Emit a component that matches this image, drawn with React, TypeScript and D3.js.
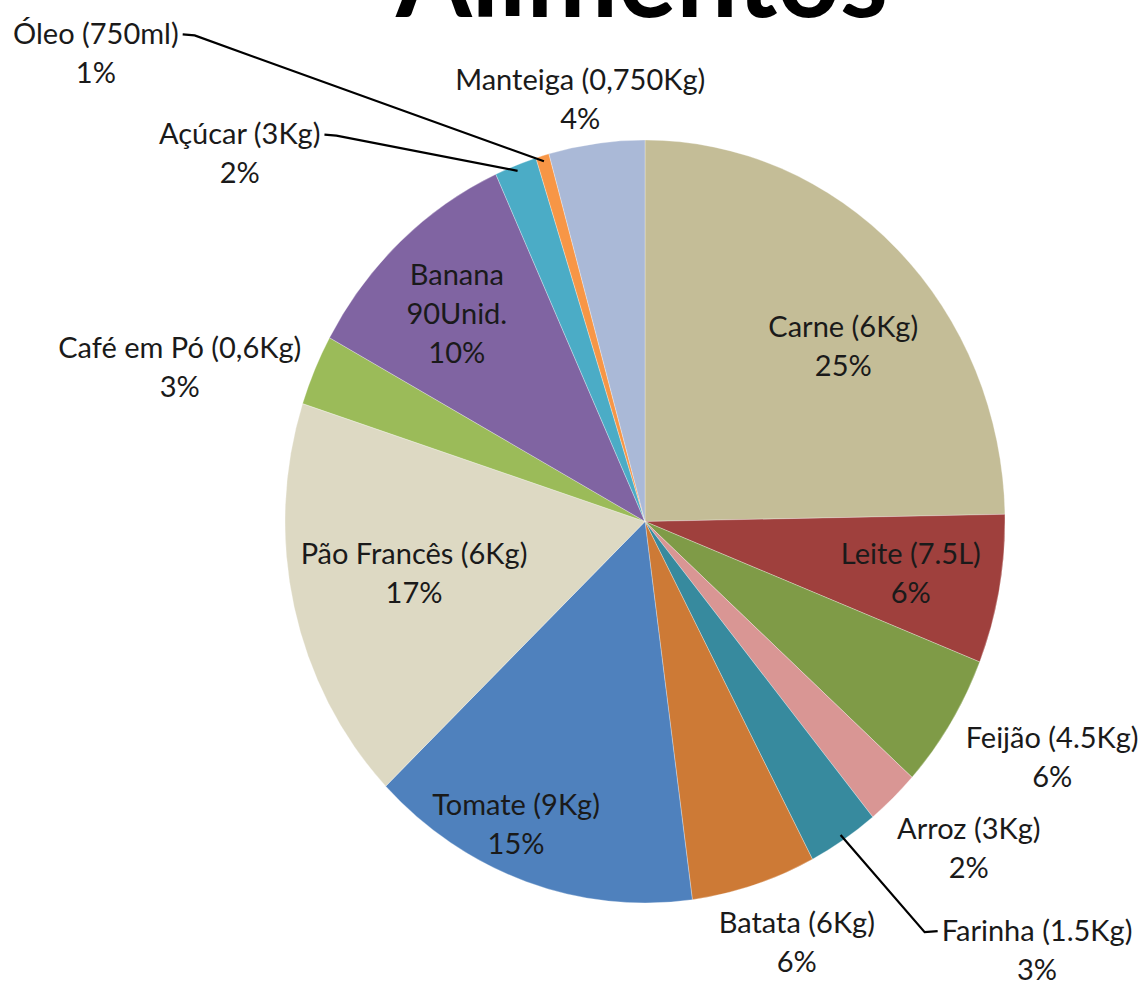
import React, { useEffect, useRef } from "react";
import * as d3 from "d3";

const W = 1142;
const H = 982;

const title = "Alimentos";

// slices, clockwise from 12 o'clock
const foods = [
  "Carne (6Kg)",
  "Leite (7.5L)",
  "Feijão (4.5Kg)",
  "Arroz (3Kg)",
  "Farinha (1.5Kg)",
  "Batata (6Kg)",
  "Tomate (9Kg)",
  "Pão Francês (6Kg)",
  "Café em Pó (0,6Kg)",
  "Banana\n90Unid.",
  "Açúcar (3Kg)",
  "Óleo (750ml)",
  "Manteiga (0,750Kg)",
];
const shares = [24.7, 6.3, 5.7, 2.4, 3.2, 5.6, 14.9, 17.2, 3.0, 10.2, 1.9, 0.6, 4.3];
const colors = [
  "#C4BD97", "#9F403D", "#7F9B47", "#D99694", "#378A9E", "#CD7A36", "#4F81BD",
  "#DDD9C3", "#9BBB59", "#8064A2", "#4BACC6", "#F79646", "#AAB9D7",
];

// label placement: distance in pie radii, angle in degrees clockwise from 12 o'clock
const labelR = [0.72, 0.75, 1.287, 1.24, 1.562, 1.177, 0.867, 0.655, 1.355, 0.758, 1.485, 1.96, 1.125];
const labelA = [49.9, 100.1, 118.5, 133.5, 135.8, 159, 204.4, 258.4, 287.5, 316.4, 310.7, 308.9, 350.8];
// labels tied to their slice with a leader line
const leaders = ["Farinha (1.5Kg)", "Açúcar (3Kg)", "Óleo (750ml)"];

export default function App() {
  const ref = useRef<SVGSVGElement>(null);

  useEffect(() => {
    const svg = d3.select(ref.current);
    svg.selectAll("*").remove();

    const cx = 645, cy = 521.5, rx = 360, ry = 381.5;
    const lineH = 39;
    const total = d3.sum(shares);
    const pct = d3.format(".0%");
    const rad = (deg: number) => (deg * Math.PI) / 180;
    const at = (a: number, k: number): [number, number] => [
      cx + rx * k * Math.sin(a),
      cy - ry * k * Math.cos(a),
    ];

    const pie = d3.pie<number>().sort(null).value((d) => d);
    const arcs = pie(shares);
    const arc = d3.arc<d3.PieArcDatum<number>>().innerRadius(0).outerRadius(rx);

    svg.append("text")
      .attr("x", 642)
      .attr("y", 17)
      .attr("text-anchor", "middle")
      .attr("font-family", "Lato, 'Open Sans', sans-serif")
      .attr("font-weight", 700)
      .attr("font-size", 112)
      .attr("textLength", 492)
      .attr("lengthAdjust", "spacingAndGlyphs")
      .attr("fill", "#000")
      .text(title);

    const g = svg.append("g")
      .attr("transform", `translate(${cx},${cy}) scale(1,${ry / rx})`);
    g.selectAll("path")
      .data(arcs)
      .join("path")
      .attr("d", arc)
      .attr("fill", (_, i) => colors[i])
      .attr("stroke", "rgba(255,255,255,0.35)")
      .attr("stroke-width", 0.8);

    const labels = svg.append("g")
      .attr("font-family", "Lato, 'Open Sans', sans-serif")
      .attr("font-size", 29)
      .attr("fill", "#1a1a1a")
      .attr("text-anchor", "middle");

    arcs.forEach((d, i) => {
      const lines = [...foods[i].split("\n"), pct(d.value / total)];
      const [lx, ly] = at(rad(labelA[i]), labelR[i]);
      const y0 = ly - ((lines.length - 1) * lineH) / 2;
      const t = labels.append("text");
      lines.forEach((s, j) => {
        t.append("tspan")
          .attr("x", lx)
          .attr("y", y0 + j * lineH)
          .attr("dominant-baseline", "central")
          .text(s);
      });

      if (leaders.includes(foods[i])) {
        const first = t.select<SVGTSpanElement>("tspan").node()!;
        const w = first.getComputedTextLength();
        const mid = (d.startAngle + d.endAngle) / 2;
        const tip = at(mid, 0.985);
        const left = lx < cx;
        const edge = left ? lx + w / 2 + 4 : lx - w / 2 - 4;
        const elbow = left ? edge + 12 : edge - 13;
        const ty = y0 + 2;
        svg.append("path")
          .attr("d", d3.line()([[edge, ty], [elbow, ty + 1], tip]))
          .attr("fill", "none")
          .attr("stroke", "#000")
          .attr("stroke-width", 2.2);
      }
    });
  }, []);

  return (
    <div style={{ position: "absolute", left: 0, top: 0 }}>
      <svg ref={ref} width={W} height={H} style={{ display: "block", background: "#fff" }} />
    </div>
  );
}
